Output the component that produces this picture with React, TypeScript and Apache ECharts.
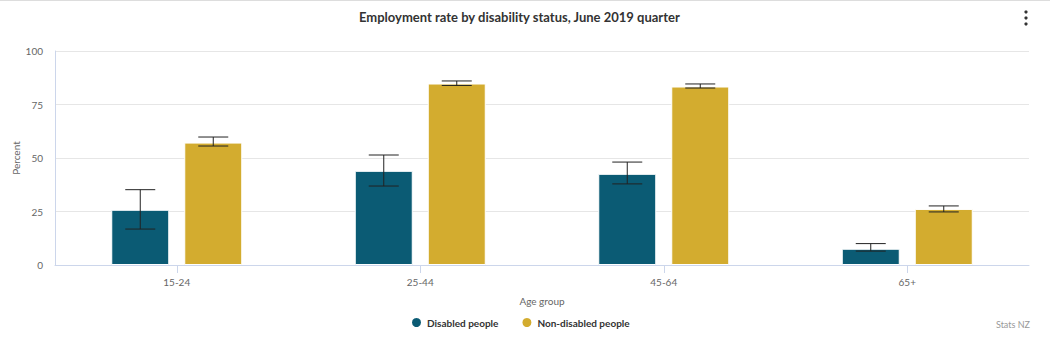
import React, { useEffect, useRef } from "react";
import * as echarts from "echarts";

const categories = ["15-24", "25-44", "45-64", "65+"];
const disabled = [25.8, 44.0, 42.6, 7.6];
const disabledLow = [16.8, 36.9, 37.9, 6.5];
const disabledHigh = [35.2, 51.4, 48.1, 10.0];
const nonDisabled = [57.2, 84.8, 83.4, 26.2];
const nonDisabledLow = [55.6, 83.9, 82.7, 24.8];
const nonDisabledHigh = [59.8, 86.0, 84.6, 27.6];
const yTicks = [0, 25, 50, 75, 100];

const FONT = "Lato, 'Open Sans', sans-serif";
const BAR_W = 58;
const GAP = 15;

function errorSeries(low: number[], high: number[], offset: number) {
  return {
    type: "custom",
    silent: true,
    z: 10,
    data: categories.map((_, i) => [i, low[i], high[i]]),
    encode: { x: 0, y: [1, 2] },
    renderItem: (params: any, api: any) => {
      const i = api.value(0);
      const lo = api.coord([i, api.value(1)]);
      const hi = api.coord([i, api.value(2)]);
      const x = lo[0] + offset;
      const hw = 15;
      const style = { stroke: "#222", lineWidth: 1 };
      return {
        type: "group",
        children: [
          { type: "line", shape: { x1: x, y1: hi[1], x2: x, y2: lo[1] }, style },
          { type: "line", shape: { x1: x - hw, y1: hi[1], x2: x + hw, y2: hi[1] }, style },
          { type: "line", shape: { x1: x - hw, y1: lo[1], x2: x + hw, y2: lo[1] }, style },
        ],
      };
    },
  };
}

export default function App() {
  const ref = useRef<HTMLDivElement>(null);
  useEffect(() => {
    if (!ref.current) return;
    const chart = echarts.init(ref.current, null, { renderer: "svg" });
    const off = (BAR_W + GAP) / 2;
    chart.setOption({
      animation: false,
      backgroundColor: "#ffffff",
      textStyle: { fontFamily: FONT },
      title: {
        text: "Employment rate by disability status, June 2019 quarter",
        left: 354,
        top: 5,
        textStyle: { fontFamily: FONT, fontSize: 13, fontWeight: "bold", color: "#333" },
      },
      legend: {
        bottom: 21,
        left: 405,
        icon: "circle",
        itemWidth: 11,
        itemHeight: 11,
        itemGap: 22,
        textStyle: { fontFamily: FONT, fontSize: 10, fontWeight: "bold", color: "#333" },
        data: ["Disabled people", "Non-disabled people"],
      },
      grid: { left: 55, right: 21, top: 51, bottom: 90, containLabel: false, outerBoundsMode: "none" },
      xAxis: {
        type: "category",
        data: categories,
        name: "Age group",
        nameLocation: "middle",
        nameGap: 31,
        nameTextStyle: { fontFamily: FONT, fontSize: 10, color: "#666" },
        axisLine: { lineStyle: { color: "#ccd6eb" } },
        axisTick: { show: true, alignWithLabel: true, length: 8, lineStyle: { color: "#ccd6eb" } },
        axisLabel: { fontFamily: FONT, fontSize: 10, color: "#666", margin: 12 },
      },
      yAxis: {
        type: "value",
        min: yTicks[0],
        max: yTicks[yTicks.length - 1],
        interval: 25,
        name: "Percent",
        nameLocation: "middle",
        nameGap: 34,
        nameMoveOverlap: false,
        nameTextStyle: { fontFamily: FONT, fontSize: 10, color: "#666" },
        axisLine: { show: true, lineStyle: { color: "#ccd6eb" } },
        axisTick: { show: false },
        axisLabel: { fontFamily: FONT, fontSize: 10, color: "#666", margin: 12 },
        splitLine: { lineStyle: { color: "#e6e6e6" } },
      },
      series: [
        {
          name: "Disabled people",
          type: "bar",
          data: disabled,
          barWidth: BAR_W,
          barGap: `${(GAP / BAR_W) * 100}%`,
          itemStyle: { color: "#0b5b74", borderColor: "#ffffff", borderWidth: 1 },
        },
        {
          name: "Non-disabled people",
          type: "bar",
          data: nonDisabled,
          barWidth: BAR_W,
          barGap: `${(GAP / BAR_W) * 100}%`,
          itemStyle: { color: "#d3ac2f", borderColor: "#ffffff", borderWidth: 1 },
        },
        errorSeries(disabledLow, disabledHigh, -off),
        errorSeries(nonDisabledLow, nonDisabledHigh, off),
      ],
      graphic: [
        { type: "rect", shape: { x: 0, y: 0, width: 1050, height: 1 }, style: { fill: "#dddddd" } },
        { type: "circle", shape: { cx: 1026, cy: 12, r: 1.6 }, style: { fill: "#333" } },
        { type: "circle", shape: { cx: 1026, cy: 18, r: 1.6 }, style: { fill: "#333" } },
        { type: "circle", shape: { cx: 1026, cy: 24, r: 1.6 }, style: { fill: "#333" } },
        {
          type: "text",
          right: 20,
          top: 320,
          style: { text: "Stats NZ", fontFamily: FONT, fontSize: 9, fill: "#999" },
        },
      ],
    });
    return () => chart.dispose();
  }, []);
  return (
    <div
      ref={ref}
      style={{ position: "fixed", left: 0, top: 0, width: 1050, height: 355 }}
    />
  );
}
